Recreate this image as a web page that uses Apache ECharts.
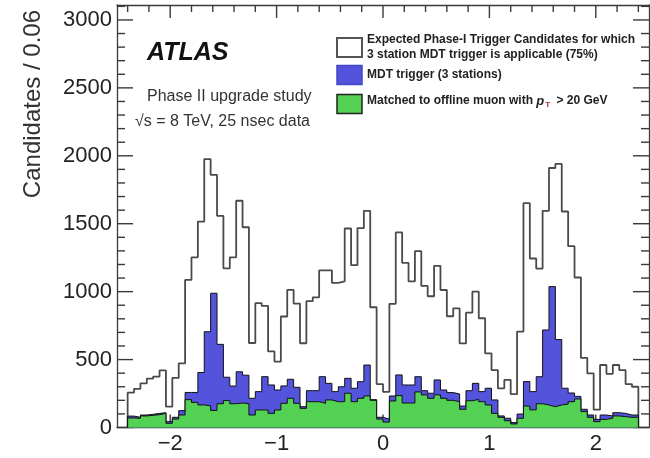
<!DOCTYPE html>
<html>
<head>
<meta charset="utf-8">
<script src="https://cdn.jsdelivr.net/npm/echarts@6/dist/echarts.min.js"></script>
<style>html,body{margin:0;padding:0;background:#fff}#c{width:650px;height:458px}</style>
</head>
<body>
<div id="c"></div>
<script>
// ---- data: 80 bins of width 0.06 from -2.4 to 2.4 ----
const BIN_LO = -2.4;
const BIN_W = 0.06;
const expected = [256,285,325,360,375,420,153,365,472,1086,1253,1516,1976,1860,1558,1172,1253,1669,1474,622,
  915,895,560,485,817,1013,912,620,930,958,1156,1156,1065,1075,1465,1195,1468,1595,885,320,
  262,910,1436,1212,1076,1298,1042,966,1190,1012,819,877,619,845,1000,804,546,423,288,350,
  245,706,1651,1244,1170,1595,1910,1940,1590,1335,1104,512,398,131,460,395,460,423,320,300];
const mdt = [84,75,92,97,104,109,43,75,124,258,258,405,705,988,612,370,305,410,385,215,
  264,374,313,276,306,355,296,153,271,271,374,325,264,300,362,289,337,460,205,75,
  62,232,387,313,313,374,271,252,350,276,257,247,158,271,325,264,289,203,85,68,
  36,99,338,264,374,718,1037,647,289,254,229,134,92,60,92,85,109,104,92,92];
const matched = [70,68,85,90,94,104,31,62,92,205,185,166,160,126,175,198,175,180,175,92,
  129,129,104,129,178,215,178,141,190,190,178,203,190,190,252,190,215,232,200,62,
  40,195,235,180,180,262,240,215,240,215,200,190,134,197,207,190,166,104,75,50,
  26,68,158,130,175,166,153,166,172,190,210,117,75,43,60,68,85,80,75,75];

const xMajor = [-2, -1, 0, 1, 2];
const xMinor = [-2.4,-2.2,-1.8,-1.6,-1.4,-1.2,-0.8,-0.6,-0.4,-0.2,0.2,0.4,0.6,0.8,1.2,1.4,1.6,1.8,2.2,2.4];
const yMajor = [0, 500, 1000, 1500, 2000, 2500, 3000];
const yMinor = [100,200,300,400,600,700,800,900,1100,1200,1300,1400,1600,1700,1800,1900,2100,2200,2300,2400,2600,2700,2800,2900,3100];

const legendTexts = [
  ['Expected Phase-I Trigger Candidates for which', '3 station MDT trigger is applicable (75%)'],
  ['MDT trigger (3 stations)'],
  ['Matched to offline muon with ', 'p', 'T', ' > 20 GeV']
];

function stepData(vals) {
  const d = [[BIN_LO, 0]];
  for (let i = 0; i < vals.length; i++) d.push([+(BIN_LO + i * BIN_W).toFixed(4), vals[i]]);
  const hi = +(BIN_LO + vals.length * BIN_W).toFixed(4);
  d.push([hi, vals[vals.length - 1]]);
  d.push([hi, 0]);
  return d;
}

const FONT = '"Liberation Sans", Arial, Helvetica, sans-serif';
const X_MIN = -2.5, X_MAX = 2.5, Y_MIN = 0, Y_MAX = 3110;
const AXIS_COLOR = '#3a3a3a';
const MAJ_X = 13, MIN_X = 7, MAJ_Y = 16, MIN_Y = 8;
const TICK_W = 1.4;

const xTickData = xMajor.map(v => [v, MAJ_X]).concat(xMinor.map(v => [v, MIN_X]));
const yTickData = yMajor.map(v => [X_MIN, v, MAJ_Y]).concat(yMinor.map(v => [X_MIN, v, MIN_Y]));

function renderXTick(params, api) {
  const v = api.value(0), len = api.value(1);
  const b = api.coord([v, Y_MIN]), t = api.coord([v, Y_MAX]);
  return { type: 'group', children: [
    { type: 'rect', shape: { x: b[0] - TICK_W / 2, y: b[1] - len, width: TICK_W, height: len }, style: { fill: AXIS_COLOR } },
    { type: 'rect', shape: { x: t[0] - TICK_W / 2, y: t[1], width: TICK_W, height: len }, style: { fill: AXIS_COLOR } }
  ] };
}
function renderYTick(params, api) {
  const v = api.value(1), len = api.value(2);
  const l = api.coord([X_MIN, v]), r = api.coord([X_MAX, v]);
  return { type: 'group', children: [
    { type: 'rect', shape: { x: l[0], y: l[1] - TICK_W / 2, width: len, height: TICK_W }, style: { fill: AXIS_COLOR } },
    { type: 'rect', shape: { x: r[0] - len, y: r[1] - TICK_W / 2, width: len, height: TICK_W }, style: { fill: AXIS_COLOR } }
  ] };
}

const chart = echarts.init(document.getElementById('c'), null, { renderer: 'canvas' });
const BLUE = '#5353db', GREEN = '#53d153';
chart.setOption({
  animation: false,
  backgroundColor: '#fff',
  grid: { left: 117, right: 1, top: 5, bottom: 30.5, containLabel: false },
  xAxis: [
    { type: 'value', position: 'bottom', min: X_MIN, max: X_MAX,
      axisLine: { show: true, onZero: false, lineStyle: { color: AXIS_COLOR, width: 1.3 } },
      axisTick: { show: false },
      axisLabel: { show: true, customValues: xMajor, formatter: v => String(v).replace('-', '\u2212'),
        fontSize: 22, color: '#222', fontFamily: FONT, margin: 5 },
      splitLine: { show: false } },
    { type: 'value', position: 'top', min: X_MIN, max: X_MAX,
      axisLine: { show: true, onZero: false, lineStyle: { color: AXIS_COLOR, width: 1.3 } },
      axisTick: { show: false }, axisLabel: { show: false }, splitLine: { show: false } }
  ],
  yAxis: [
    { type: 'value', position: 'left', min: Y_MIN, max: Y_MAX,
      axisLine: { show: true, onZero: false, lineStyle: { color: AXIS_COLOR, width: 1.3 } },
      axisTick: { show: false },
      axisLabel: { show: true, customValues: yMajor, formatter: v => String(v),
        fontSize: 22, color: '#222', fontFamily: FONT, margin: 5 },
      splitLine: { show: false } },
    { type: 'value', position: 'right', min: Y_MIN, max: Y_MAX,
      axisLine: { show: true, onZero: false, lineStyle: { color: AXIS_COLOR, width: 1.3 } },
      axisTick: { show: false }, axisLabel: { show: false }, splitLine: { show: false } }
  ],
  series: [
    { name: 'xticks', type: 'custom', data: xTickData, renderItem: renderXTick, z: 1, silent: true, clip: false,
      encode: { x: 0, y: 1 } },
    { name: 'yticks', type: 'custom', data: yTickData, renderItem: renderYTick, z: 1, silent: true, clip: false,
      encode: { x: 0, y: 1 } },
    { name: 'expected', type: 'line', step: 'end', data: stepData(expected), symbol: 'none', z: 2,
      lineStyle: { color: '#4a4a4a', width: 1.8 } },
    { name: 'mdt', type: 'line', step: 'end', data: stepData(mdt), symbol: 'none', z: 3,
      lineStyle: { color: '#111', width: 1 }, areaStyle: { color: BLUE, opacity: 1 } },
    { name: 'matched', type: 'line', step: 'end', data: stepData(matched), symbol: 'none', z: 4,
      lineStyle: { color: '#111', width: 1 }, areaStyle: { color: GREEN, opacity: 1 } }
  ],
  graphic: { elements: [
    { type: 'text', x: 33, y: 10, rotation: Math.PI / 2,
      style: { text: 'Candidates / 0.06', font: '24px ' + FONT, fill: '#333', align: 'right', verticalAlign: 'middle' } },
    { type: 'text', x: 147, y: 53,
      style: { text: 'ATLAS', font: 'italic bold 25px ' + FONT, fill: '#111', align: 'left', verticalAlign: 'middle' } },
    { type: 'text', x: 147, y: 97,
      style: { text: 'Phase II upgrade study', font: '16px ' + FONT, fill: '#333', align: 'left', verticalAlign: 'middle' } },
    { type: 'text', x: 135, y: 122,
      style: { text: '\u221As = 8 TeV, 25 nsec data', font: '16px ' + FONT, fill: '#333', align: 'left', verticalAlign: 'middle' } },
    { type: 'rect', shape: { x: 337, y: 38, width: 25, height: 19 },
      style: { fill: '#fff', stroke: '#555', lineWidth: 2 } },
    { type: 'rect', shape: { x: 337, y: 65.5, width: 25, height: 19 },
      style: { fill: BLUE, stroke: '#4646c8', lineWidth: 1.5 } },
    { type: 'rect', shape: { x: 337, y: 94.5, width: 25, height: 19 },
      style: { fill: GREEN, stroke: '#222', lineWidth: 1.5 } },
    { type: 'text', x: 367, y: 40,
      style: { text: legendTexts[0][0], font: 'bold 12px ' + FONT, fill: '#222', align: 'left', verticalAlign: 'middle' } },
    { type: 'text', x: 367, y: 55,
      style: { text: legendTexts[0][1], font: 'bold 12px ' + FONT, fill: '#222', align: 'left', verticalAlign: 'middle' } },
    { type: 'text', x: 367, y: 75,
      style: { text: legendTexts[1][0], font: 'bold 12px ' + FONT, fill: '#222', align: 'left', verticalAlign: 'middle' } },
    { type: 'text', x: 367, y: 101,
      style: {
        text: '{b|' + legendTexts[2][0] + '}{p|' + legendTexts[2][1] + '}{s|' + legendTexts[2][2] + '}{b|' + legendTexts[2][3] + '}',
        rich: {
          b: { fontFamily: FONT, fontWeight: 'bold', fontSize: 12, fill: '#222', lineHeight: 16, verticalAlign: 'middle' },
          p: { fontFamily: FONT, fontWeight: 'bold', fontStyle: 'italic', fontSize: 13, fill: '#222', lineHeight: 16, verticalAlign: 'middle' },
          s: { fontFamily: FONT, fontWeight: 'bold', fontSize: 8, fill: '#b03030', lineHeight: 16, verticalAlign: 'bottom', padding: [0, 3, 0, 1] }
        },
        align: 'left', verticalAlign: 'middle'
      } }
  ] }
});
</script>
</body>
</html>
